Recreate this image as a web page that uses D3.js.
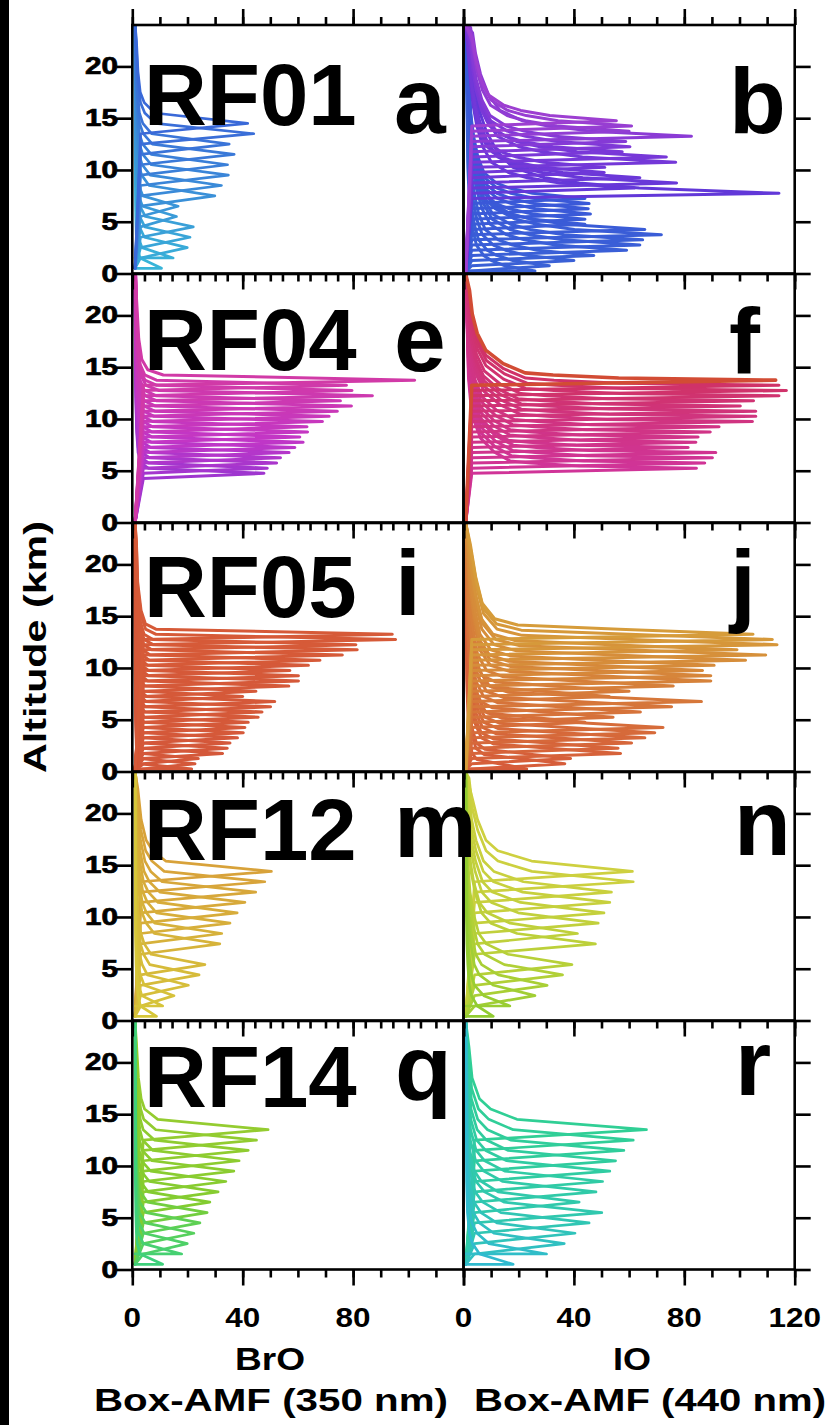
<!DOCTYPE html>
<html><head><meta charset="utf-8">
<script src="https://cdn.jsdelivr.net/npm/d3@7"></script>
<style>body{margin:0;background:#fff}svg{display:block}</style>
</head><body>
<svg id="chart" width="829" height="1425"></svg>
<script>
// ---------- data ----------
const flights = ["RF01", "RF04", "RF05", "RF12", "RF14"];
const panelLetters = [["a", "b"], ["e", "f"], ["i", "j"], ["m", "n"], ["q", "r"]];
const species = ["BrO", "IO"];
const wavelengths = ["Box-AMF (350 nm)", "Box-AMF (440 nm)"];
const xTickLabels = [0, 40, 80, 120];
const yTickValues = [0, 5, 10, 15, 20];

// [flight altitude (km), peak Box-AMF] for every modelled profile
const rf01BrO = [[0.5,10.6],[1.5,14.8],[2.5,19.9],[3.5,20.9],[4.5,22.1],[5.5,16],[6.5,16.6],[7.5,29.9],
  [8.5,32.3],[9.5,34.8],[10.5,34.5],[11.5,36.9],[12.5,35.1],[13.5,44.0],[14.5,41.8]];
const rf01IO = [[0.25,25.9],[0.75,31.1],[1.25,40],[1.75,47.2],[2.25,59.1],[2.75,63.9],[3.25,64.9],[3.75,71.7],
  [4.25,65.7],[4.75,44],[5.25,44],[5.75,46],[6.25,45.2],[6.75,45.5],[7.25,44],[7.75,114.3],[8.25,62],
  [8.75,77.2],[9.25,63.9],[9.75,51],[10.25,51.2],[10.75,76.9],[11.25,73.5],[11.75,57.5],[12.25,60.3],
  [12.75,58.8],[13.25,82.6],[13.75,60],[14.25,60.9],[14.75,55.4]];
const rf04BrO = [[4.75,47.7],[5.25,48.9],[5.75,52.3],[6.25,53.7],[6.75,56.8],[7.25,58.9],[7.75,61.9],
  [8.25,60.7],[8.75,63.5],[9.25,63.3],[9.75,68.9],[10.25,71.3],[10.75,74.3],[11.25,79.4],[11.75,75.4],
  [12.25,87],[12.75,79.6],[13.25,77.6],[13.75,102.3]];
const rf04IO = [[5.25,84.4],[5.75,87.4],[6.25,90.2],[6.75,91.4],[7.25,81.4],[7.75,84.2],[8.25,85],
  [8.75,89.4],[9.25,92.6],[9.75,104.7],[10.25,105.9],[10.75,105.9],[11.25,100.3],[11.75,105.1],
  [12.25,114.3],[12.75,117],[13.25,114.3]];
const rf04IOLast = [[13.75,113.1]];
const rf05BrO = [[0.25,21.5],[0.75,22.7],[1.25,23.9],[1.75,32.7],[2.25,34.4],[2.75,35.4],[3.25,38.1],
  [3.75,40.2],[4.25,40.8],[4.75,42],[5.25,45.6],[5.75,47],[6.25,50.1],[6.75,51.6],[7.25,40],[7.75,44.8],
  [8.25,56.7],[8.75,60.2],[9.25,60.2],[9.75,57.1],[10.25,63.8],[10.75,68],[11.25,76.1],[11.75,81.5],
  [12.25,81],[12.75,95.4],[13.25,94.2]];
const rf05IO = [[0.25,22.9],[0.75,36.7],[1.25,38.8],[1.75,56.9],[2.25,56],[2.75,60.9],[3.25,65.7],
  [3.75,69.3],[4.25,72.3],[4.75,44],[5.25,54.2],[5.75,64.1],[6.25,75.4],[6.75,86.2],[7.25,52.8],
  [7.75,60],[8.25,76],[8.75,89.6],[9.25,89.6],[9.75,86.6],[10.25,90.8],[10.75,102.2],[11.25,109.5],
  [11.75,99.1],[12.25,113.6],[12.75,111.9],[13.25,104.9]];
const rf12BrO = [[0.4,8.8],[1.4,11],[2.4,15.1],[3.4,20.3],[4.4,24.2],[5.4,26.3],[7.4,31.7],[8.4,32.4],
  [9.4,35.4],[10.4,38],[11.4,40.8],[12.4,44.7],[13.4,48],[14.4,50.4]];
const rf12IO = [[0.4,10.8],[1.4,16.8],[2.4,25.9],[3.4,30.3],[4.4,35.9],[5.4,39.3],[7.4,47.8],[8.4,41.3],
  [9.4,48.8],[10.4,50.9],[11.4,53],[12.4,53.6],[13.4,61.5],[14.4,61.2]];
const rf14BrO = [[0.5,11.0],[1.5,17.9],[2.5,19.9],[3.5,22.3],[4.5,24.5],[5.5,27.1],[6.5,28.1],[7.5,31.1],
  [8.5,33.9],[9.5,36.8],[10.5,38.7],[11.5,42.0],[12.5,45.0],[13.5,49.2]];
const rf14IO = [[0.5,18],[1.5,30.1],[2.5,36.5],[3.5,40.4],[4.5,45.5],[5.5,50.1],[6.5,41.9],[7.5,48],
  [8.5,50.4],[9.5,53],[10.5,55.1],[11.5,58.1],[12.5,61.5],[13.5,66.3]];

// Above-aircraft part of each profile: [km above flight altitude, fraction of the peak]
const tailA = [[1,.17],[2,.08],[3,.045],[5,.025],[8,.012],[12,.006]];
const tailB = [[0.5,.55],[1,.36],[1.5,.25],[2.5,.15],[4,.1],[6,.065],[8,.043],[10,.03]];
const tailE = [[0.5,.1],[1,.045],[2,.024],[4,.013],[7,.007],[11,.004]];
const tailF = [[0.2,.49],[0.5,.28],[0.7,.19],[1.6,.12],[2.9,.064],[4.5,.037],[6.4,.021],[8.7,.012]];
const tailI = [[0.5,.08],[1,.04],[2.3,.023],[5,.01],[9,.005]];
const tailJ = [[0.5,.53],[0.9,.18],[1.5,.10],[3,.057],[5.6,.034],[8.7,.016]];
const tailM = [[1,.22],[2,.127],[3,.08],[5,.044],[8,.02],[12,.01]];
const tailN = [[1,.39],[2,.19],[3,.12],[5,.07],[7,.04],[10,.02]];
const tailQ = [[1,.167],[2,.07],[3,.045],[5,.025],[8,.012]];
const tailR = [[1,.28],[2,.136],[3,.075],[5,.035],[8,.018]];

// colour along altitude: [km, colour]
const colA = [[0,"#38b6d8"],[6,"#3a98d8"],[15,"#3a66d8"]];
const colB = [[0,"#3a62d6"],[7.3,"#3a58d8"],[7.75,"#6238d8"],[12,"#7c38d8"],[15,"#a040d0"]];
const colE = [[4.5,"#9c36d0"],[8,"#c236c6"],[14,"#d23aa6"]];
const colF = [[4.5,"#d0349c"],[10,"#d03480"],[14,"#d03262"]];
const colFLast = [[0,"#d24c34"],[24,"#d24c34"]];
const colI = [[0,"#d4583a"],[14,"#d65a38"]];
const colJ = [[0,"#d65a3a"],[7,"#d6783a"],[14,"#d6a03a"]];
const colM = [[0,"#d6c83a"],[7,"#d6b43a"],[15,"#d8a03a"]];
const colN = [[0,"#8ecc30"],[5,"#b6d038"],[15,"#d0d040"]];
const colQ = [[0,"#3ad080"],[5,"#62d04e"],[6,"#82cc30"],[15,"#98cc30"]];
const colR = [[0,"#30b8d2"],[5,"#30c8b0"],[15,"#30d090"]];

// ---------- layout ----------
const W = 829, H = 1425;
const ALT_MAX = 24, AMF_MAX = 120;
const rowTop0 = 25, rowStep = 249, rowH = 248.5;
const colX = [[132.3, 463.5], [463.5, 794.7]];
const labelBase = [125, 370, 616.5, 860, 1106.5];
const letterPos = [[[394, 133], [729, 133]], [[394, 371], [729, 373]], [[395, 615], [730, 615]],
                   [[394, 857], [734, 855]], [[395, 1100], [735, 1095]]];

const panels = [
  {r:0,c:0,data:rf01BrO,tail:tailA,col:colA,dz:1,arm:3,floor:1,ground:0.5,up:true,w:2.7},
  {r:0,c:1,data:rf01IO,tail:tailB,col:colB,dz:0.5,arm:3,floor:0.8,ground:0.2,up:true,w:3},
  {r:1,c:0,data:rf04BrO,tail:tailE,col:colE,dz:0.5,arm:4,floor:1,ground:0,up:true,w:3},
  {r:1,c:1,data:rf04IO,tail:tailF,col:colF,dz:0.5,arm:3,floor:0.8,ground:0,up:true,w:3,
     last:{data:rf04IOLast,col:colFLast,width:3.6}},
  {r:2,c:0,data:rf05BrO,tail:tailI,col:colI,dz:0.5,arm:4,floor:1,ground:0.1,up:true,w:3},
  {r:2,c:1,data:rf05IO,tail:tailJ,col:colJ,dz:0.5,arm:3,floor:0.8,ground:0.2,up:true,w:3},
  {r:3,c:0,data:rf12BrO,tail:tailM,col:colM,dz:1,arm:3,floor:1,ground:0.4,up:false,w:2.7},
  {r:3,c:1,data:rf12IO,tail:tailN,col:colN,dz:1,arm:4,floor:0.8,ground:0.4,up:false,w:2.7},
  {r:4,c:0,data:rf14BrO,tail:tailQ,col:colQ,dz:1,arm:4,floor:1,ground:0.5,up:false,w:2.7},
  {r:4,c:1,data:rf14IO,tail:tailR,col:colR,dz:1,arm:4,floor:0.8,ground:0.5,up:false,w:2.7}
];

const svg = d3.select("#chart");
svg.append("rect").attr("width", W).attr("height", H).attr("fill", "#fff");
svg.append("rect").attr("x", 0).attr("y", 0).attr("width", 9).attr("height", H).attr("fill", "#000");

const FONT = "'Liberation Sans', Arial, Helvetica, sans-serif";
const defs = svg.append("defs");

function xScale(c) { return d3.scaleLinear().domain([0, AMF_MAX]).range(colX[c]); }
function yScale(r) {
  const top = rowTop0 + r * rowStep;
  return d3.scaleLinear().domain([0, ALT_MAX]).range([top + rowH, top]);
}

function profile(z, peak, p) {
  const pts = [];
  if (z - p.dz > p.ground) {
    pts.push([p.floor, p.ground]);
    pts.push([p.arm, z - p.dz]);
  } else {
    pts.push([p.floor, z]);
  }
  pts.push([peak, z]);
  p.tail.forEach(([dAlt, frac]) => {
    if (z + dAlt < ALT_MAX) pts.push([p.floor + frac * peak, z + dAlt]);
  });
  pts.push([p.floor, ALT_MAX]);
  return pts;
}

panels.forEach((p, i) => {
  const x = xScale(p.c), y = yScale(p.r);
  const id = "clip" + i;
  defs.append("clipPath").attr("id", id).append("rect")
    .attr("x", x(0)).attr("y", y(ALT_MAX)).attr("width", x(AMF_MAX) - x(0)).attr("height", y(0) - y(ALT_MAX));
  const line = d3.line().x(d => x(d[0])).y(d => y(d[1]));
  const g = svg.append("g").attr("clip-path", `url(#${id})`);
  const draw = (rows, stops, width) => {
    const color = d3.scaleLinear().domain(stops.map(s => s[0])).range(stops.map(s => s[1]))
      .interpolate(d3.interpolateRgb).clamp(true);
    const ordered = rows.slice().sort((a, b) => p.up ? a[0] - b[0] : b[0] - a[0]);
    g.selectAll(null).data(ordered).join("path")
      .attr("d", d => line(profile(d[0], d[1], p)))
      .attr("fill", "none").attr("stroke", d => color(d[0]))
      .attr("stroke-width", width).attr("stroke-linejoin", "round").attr("stroke-linecap", "round");
  };
  draw(p.data, p.col, p.w);
  if (p.last) draw(p.last.data, p.last.col, p.last.width);
});

// ---------- axes ----------
const axisStroke = 2.6;
function styleAxis(g) {
  g.select(".domain").remove();
  g.selectAll(".tick line").attr("stroke", "#000").attr("stroke-width", axisStroke);
  g.selectAll(".tick text").remove();
}
for (let r = 0; r < 5; r++) {
  const y = yScale(r);
  for (let c = 0; c < 2; c++) {
    const x = xScale(c);
    svg.append("rect").attr("x", x(0)).attr("y", y(ALT_MAX)).attr("width", x(AMF_MAX) - x(0))
      .attr("height", y(0) - y(ALT_MAX)).attr("fill", "none").attr("stroke", "#000").attr("stroke-width", axisStroke);
    const minor = d3.range(0, AMF_MAX + 1, 10), major = xTickLabels;
    svg.append("g").attr("transform", `translate(0,${y(0)})`)
      .call(d3.axisBottom(x).tickValues(minor).tickSize(8)).call(styleAxis);
    svg.append("g").attr("transform", `translate(0,${y(0)})`)
      .call(d3.axisBottom(x).tickValues(major).tickSize(16)).call(styleAxis);
    if (r === 0) {
      svg.append("g").attr("transform", `translate(0,${y(ALT_MAX)})`)
        .call(d3.axisTop(x).tickValues(minor).tickSize(8)).call(styleAxis);
      svg.append("g").attr("transform", `translate(0,${y(ALT_MAX)})`)
        .call(d3.axisTop(x).tickValues(major).tickSize(16)).call(styleAxis);
    }
    if (c === 0 && r < 4) {
      svg.append("g").attr("transform", `translate(0,${y(0)})`)
        .call(d3.axisBottom(x).tickValues(d3.range(4.4, AMF_MAX, 10)).tickSize(8)).call(styleAxis);
    }
  }
  svg.append("g").attr("transform", `translate(${colX[0][0]},0)`)
    .call(d3.axisLeft(y).tickValues(yTickValues).tickSize(16)).call(styleAxis);
  svg.append("g").attr("transform", `translate(${colX[1][1]},0)`)
    .call(d3.axisRight(y).tickValues(yTickValues).tickSize(16)).call(styleAxis);

  // altitude tick labels
  svg.append("g").selectAll("text").data(yTickValues).join("text")
    .attr("x", 118).attr("y", d => y(d) + 8)
    .attr("text-anchor", "end").attr("font-family", FONT).attr("font-weight", "bold").attr("font-size", 23)
    .attr("stroke", "#000").attr("stroke-width", 0.7)
    .attr("textLength", d => String(d).length * 16.5).attr("lengthAdjust", "spacingAndGlyphs")
    .text(d => d);

  // flight name and panel letters
  svg.append("text").attr("x", 144).attr("y", labelBase[r])
    .attr("font-family", FONT).attr("font-weight", "bold").attr("font-size", 87).text(flights[r]);
  panelLetters[r].forEach((L, c) => {
    svg.append("text").attr("x", letterPos[r][c][0]).attr("y", letterPos[r][c][1])
      .attr("font-family", FONT).attr("font-weight", "bold").attr("font-size", 93).text(L);
  });
}

// bottom tick labels
for (let c = 0; c < 2; c++) {
  const x = xScale(c);
  const vals = c === 0 ? xTickLabels.slice(0, 3) : xTickLabels;
  svg.append("g").selectAll("text").data(vals).join("text")
    .attr("x", d => x(d)).attr("y", 1327).attr("text-anchor", "middle")
    .attr("font-family", FONT).attr("font-weight", "bold").attr("font-size", 28)
    .attr("textLength", d => String(d).length * 17.5).attr("lengthAdjust", "spacingAndGlyphs")
    .text(d => d);
}
const speciesX = [270, 632], speciesLen = [70, 38];
const titleX = [271, 650], titleLen = [354, 352];
species.forEach((s, c) => {
  svg.append("text").attr("x", speciesX[c]).attr("y", 1370).attr("text-anchor", "middle")
    .attr("font-family", FONT).attr("font-weight", "bold").attr("font-size", 31)
    .attr("textLength", speciesLen[c]).attr("lengthAdjust", "spacingAndGlyphs").text(s);
  svg.append("text").attr("x", titleX[c]).attr("y", 1411).attr("text-anchor", "middle")
    .attr("font-family", FONT).attr("font-weight", "bold").attr("font-size", 31)
    .attr("textLength", titleLen[c]).attr("lengthAdjust", "spacingAndGlyphs").text(wavelengths[c]);
});
svg.append("text").attr("transform", "translate(46,647) rotate(-90)").attr("text-anchor", "middle")
  .attr("font-family", FONT).attr("font-weight", "bold").attr("font-size", 31)
  .attr("textLength", 252).attr("lengthAdjust", "spacingAndGlyphs").text("Altitude (km)");
</script>
</body></html>
